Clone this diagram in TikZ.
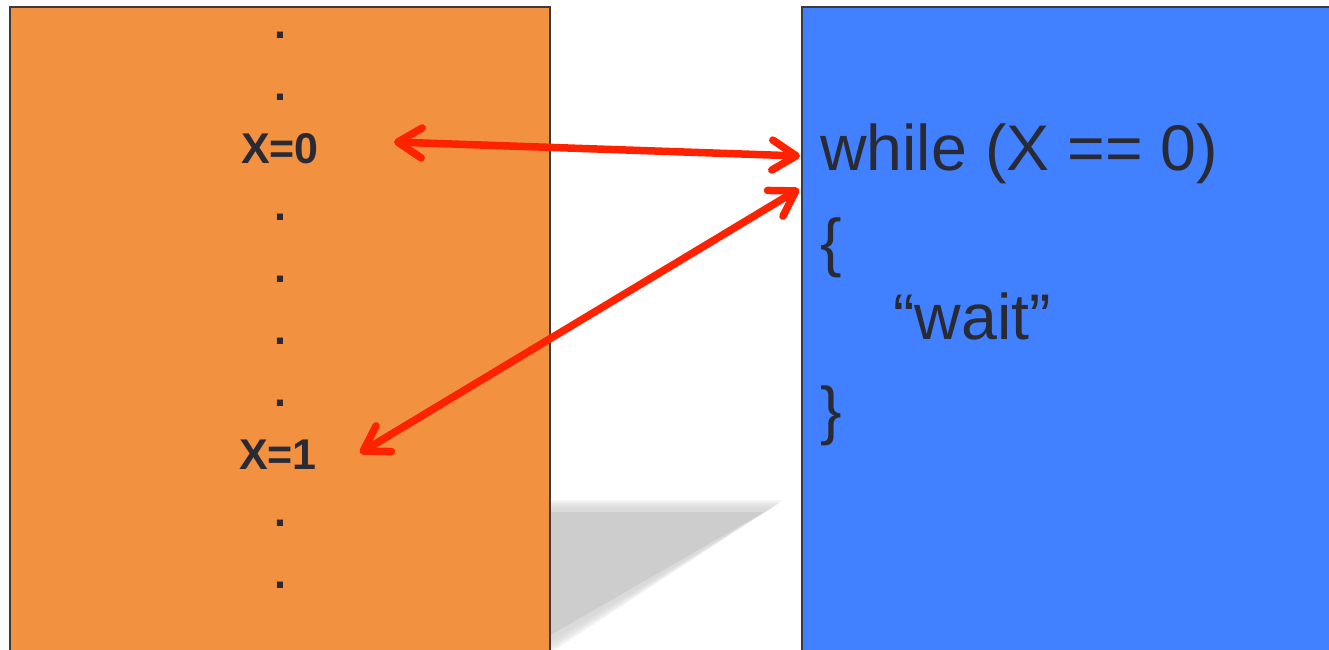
\documentclass[tikz,border=0pt]{standalone}
\usepackage{fontspec}
\setmainfont{Liberation Sans}
\usetikzlibrary{arrows.meta}
\definecolor{orangebox}{HTML}{F29241}
\definecolor{bluebox}{HTML}{4180FF}
\definecolor{txt}{HTML}{2A2A35}
\definecolor{redarrow}{HTML}{FF2200}
\definecolor{edge}{HTML}{3A3A40}
\definecolor{shadowgray}{HTML}{CDCDCD}
\tikzset{
  panel/.style={draw=edge, line width=1.5pt},
  memtext/.style={font=\fontsize{43}{50}\selectfont\bfseries, text=txt, inner sep=0pt, anchor=base},
  codetext/.style={font=\fontsize{64.5}{75}\selectfont, text=txt, inner sep=0pt, anchor=base west},
  link/.style={draw=redarrow, line width=7.5pt, line cap=round,
    {Straight Barb[length=24pt,width=30pt,round]}-{Straight Barb[length=24pt,width=30pt,round]}},
  shadowlayer/.style={fill=shadowgray, opacity=#1},
}
\begin{document}
\begin{tikzpicture}[x=1pt,y=-1pt]
\useasboundingbox (0,0) rectangle (1329,649);
\fill[white] (0,0) rectangle (1329,649);
\begin{scope}
\clip (0,0) rectangle (1329,649);
% blurred shadow
\foreach \d in {10,8,6,4,2,0}
  \fill[shadowlayer=0.18] (549,508-0.8*\d) -- (772+1.1*\d,508-0.8*\d) -- (549,642+1.2*\d) -- cycle;
\fill[shadowgray] (549,512) -- (764,512) -- (549,636) -- cycle;
% panels
\path[panel, fill=orangebox] (10,7) rectangle (550,660);
\path[panel, fill=bluebox] (802,7) rectangle (1340,660);
\end{scope}
% memory column
\foreach \y/\n in {38/d1,100/d2,220/d3,282/d4,344/d5,406/d6,526/d7,588/d8}
  \node[memtext] (\n) at (280,\y) {.};
\node[memtext] (x0) at (280,163) {X=0};
\node[memtext] (x1) at (278,469) {X=1};
% code
\node[codetext] (while) at (820,170) {while (X == 0)};
\node[codetext] (open) at (820,264) {\{};
\node[codetext] (wait) at (893,339) {“wait”};
\node[codetext] (close) at (820,432) {\}};
% arrow end points
\coordinate (m0) at (394,142);
\coordinate (m1) at (360,453);
\coordinate (c0) at (800,156);
\coordinate (c1) at (799,189);
\draw[link] (m0) -- (c0);
\draw[link] (m1) -- (c1);
\end{tikzpicture}
\end{document}
